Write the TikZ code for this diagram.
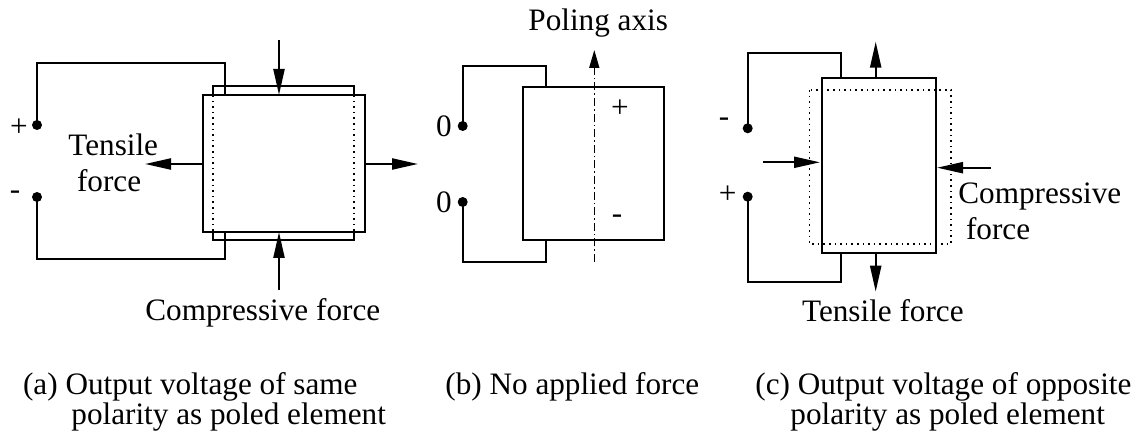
\documentclass[tikz,border=0pt]{standalone}
\usepackage{fontspec}
\setmainfont{Liberation Serif}
\usetikzlibrary{arrows.meta}
\begin{document}
\begin{tikzpicture}[x=0.5pt,y=-0.5pt,
  wire/.style={line width=1.1pt, line join=miter},
  solidbox/.style={line width=1.1pt},
  dotbox/.style={line width=0.8pt, dotted},
  force/.style={line width=1.1pt, -{Triangle[length=13pt,width=5.5pt]}},
  axisline/.style={line width=0.8pt, dash pattern=on 4pt off 1.5pt on 0.8pt off 1.5pt, -{Triangle[length=9pt,width=5pt]}},
  terminal/.style={circle, fill=black, inner sep=0pt, minimum size=5pt},
  lbl/.style={inner sep=0pt, font=\fontsize{15.6}{15}\selectfont},
  txt/.style={inner sep=0pt, anchor=base west, font=\fontsize{15.6}{15}\selectfont}]
\useasboundingbox (0,0) rectangle (1147,438);

% ---------- (a) ----------
\draw[solidbox] (202.7,95) rectangle (365,231.7);
\draw[solidbox] (212.7,95) -- (212.7,86) -- (354,86) -- (354,95);
\draw[solidbox] (212.7,231.7) -- (212.7,240) -- (354,240) -- (354,231.7);
\draw[dotbox] (212.7,95) -- (212.7,231.7);
\draw[dotbox] (354,95) -- (354,231.7);
\node[terminal] (ap) at (37,125) {};
\node[terminal] (am) at (37,197) {};
\coordinate (apt) at (225,95);
\coordinate (amb) at (225,231.7);
\draw[wire] (ap.center) |- (225,63) -- (apt);
\draw[wire] (am.center) |- (225,259) -- (amb);
\node[lbl] (apl) at (19,127.5) {+};
\node[lbl] (aml) at (15,195) {-};
\coordinate (at1) at (279,40);  \coordinate (at2) at (279,95);
\coordinate (ab1) at (279,290); \coordinate (ab2) at (279,232);
\coordinate (al1) at (202,164); \coordinate (al2) at (145,164);
\coordinate (ar1) at (365.5,164); \coordinate (ar2) at (418,164);
\draw[force] (at1) -- (at2);
\draw[force] (ab1) -- (ab2);
\draw[force] (al1) -- (al2);
\draw[force] (ar1) -- (ar2);
\node[txt] (tens) at (68,156) {Tensile};
\node[txt] (tensf) at (76.7,192) {force};
\node[txt] (acomp) at (145,321) {Compressive force};
\node[txt] (capa1) at (22.7,395) {(a) Output voltage of same};
\node[txt] (capa2) at (71,424) {polarity as poled element};

% ---------- (b) ----------
\draw[solidbox] (522.7,87.3) rectangle (664,240);
\node[terminal] (bp) at (462.7,126) {};
\node[terminal] (bm) at (462.7,202) {};
\coordinate (bpt) at (546,87.3);
\coordinate (bmb) at (546,240);
\draw[wire] (bp.center) |- (546,66) -- (bpt);
\draw[wire] (bm.center) |- (546,261.7) -- (bmb);
\node[lbl] (bpl) at (444,126) {0};
\node[lbl] (bml) at (444,202) {0};
\coordinate (pa1) at (594.3,262);
\coordinate (pa2) at (594.3,50);
\draw[axisline] (pa1) -- (pa2);
\node[txt] (poling) at (528,30.5) {Poling axis};
\node[lbl] (bplus) at (620,109) {+};
\node[lbl] (bminus) at (617,219) {-};
\node[txt] (capb) at (445,395) {(b) No applied force};

% ---------- (c) ----------
\draw[dotbox] (809.3,90) rectangle (950.7,244);
\draw[solidbox] (821.7,77.7) rectangle (935.7,252.7);
\node[terminal] (cm) at (747.7,128.3) {};
\node[terminal] (cp) at (747.7,196.7) {};
\coordinate (cmt) at (841.3,77.7);
\coordinate (cpb) at (841.3,252.7);
\draw[wire] (cm.center) |- (841.3,52.7) -- (cmt);
\draw[wire] (cp.center) |- (841.3,281.7) -- (cpb);
\node[lbl] (cml) at (724,122.7) {-};
\node[lbl] (cpl) at (727.7,195) {+};
\coordinate (ct1) at (875.7,77.7);  \coordinate (ct2) at (875.7,41.7);
\coordinate (cb1) at (875.7,252.7); \coordinate (cb2) at (875.7,291.7);
\coordinate (cl1) at (763.3,162.3); \coordinate (cl2) at (820,162.3);
\coordinate (cr1) at (991,167.7);   \coordinate (cr2) at (937,167.7);
\draw[force] (ct1) -- (ct2);
\draw[force] (cb1) -- (cb2);
\draw[force] (cl1) -- (cl2);
\draw[force] (cr1) -- (cr2);
\node[txt] (ccomp) at (958,203.3) {Compressive};
\node[txt] (ccompf) at (965.7,240) {force};
\node[txt] (ctens) at (801.7,322) {Tensile force};
\node[txt] (capc1) at (755,395) {(c) Output voltage of opposite};
\node[txt] (capc2) at (790,424) {polarity as poled element};
\end{tikzpicture}
\end{document}
